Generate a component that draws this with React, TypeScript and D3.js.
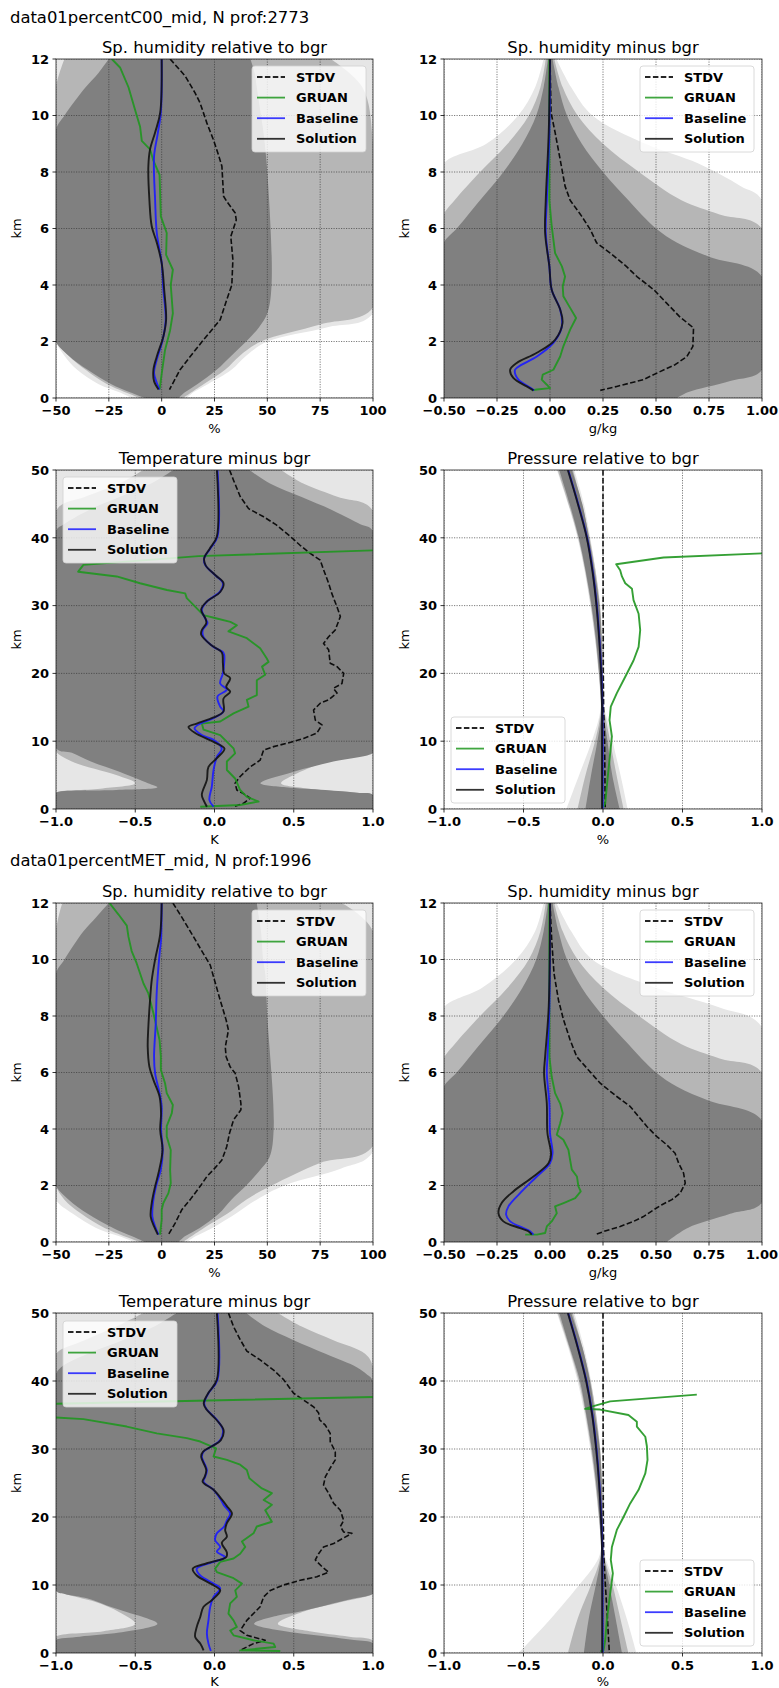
import React from "react";
import * as d3 from "d3";

// [km, value] pairs; envelopes are [km, low, high]
type Pt = [number, number];
type Env = [number, number, number];

const humRelTicks = [-50, -25, 0, 25, 50, 75, 100];
const humDiffTicks = [-0.5, -0.25, 0, 0.25, 0.5, 0.75, 1.0];
const unitTicks = [-1, -0.5, 0, 0.5, 1];
const km12Ticks = [0, 2, 4, 6, 8, 10, 12];
const km50Ticks = [0, 10, 20, 30, 40, 50];
const legendNames = ["STDV", "GRUAN", "Baseline", "Solution"];

// ---------- C00, specific humidity relative to bgr (%)
const c00RelStdv: Pt[] = [[12,4],[11.4,11.1],[10.8,15.8],[10.44,18.2],[9.73,21.4],[9.14,24.5],[8.6,26.9],[8.2,28.5],[7.14,29.3],[6.96,30.8],[6.55,34.8],[6.3,35.3],[5.72,32.7],[4.9,33.7],[4.0,33.2],[3.48,30.8],[2.77,27.7],[2.48,24.5],[2.06,19.8],[1.47,13.5],[1.0,8.7],[0.3,3.7]];
const c00RelGruan: Pt[] = [[12,-23.6],[11.7,-19.7],[11.0,-15.7],[10.0,-11.8],[9.6,-10.2],[9.1,-9.4],[8.8,-5.5],[8.4,-3.9],[7.9,-1.0],[6.43,-0.4],[5.84,2.4],[5.07,2.1],[4.54,5.3],[4.0,4.3],[3.0,5.3],[2.4,4.0],[1.7,1.6],[0.88,0.05],[0.3,-1.0]];
const c00RelBase: Pt[] = [[12,0],[10.1,-0.4],[9.3,-2.0],[8.55,-3.6],[7.0,-3.1],[5.84,-2.3],[4.78,0],[3.83,0.8],[2.77,1.9],[2.06,0.5],[1.36,-2.3],[0.88,-3.6],[0.53,-2.3],[0.3,-1.0]];
const c00RelSol: Pt[] = [[12,0],[10.1,-0.7],[9.4,-3.1],[8.8,-5.5],[8.2,-6.3],[7.0,-5.8],[6.08,-4.7],[5.5,-2.3],[4.78,0],[3.83,1.2],[2.77,2.1],[2.18,0.8],[1.47,-2.3],[1.0,-3.9],[0.59,-3.6],[0.3,-1.5]];
const c00RelOuter: Env[] = [[12,-50,100],[3.0,-50,100],[2.5,-50,78],[2.0,-50,50],[1.5,-46,40],[1.0,-40,33],[0.5,-30,22],[0.2,-20,15],[0,-14,12]];
const c00RelMid: Env[] = [[12,-46,80],[11,-50,95],[9,-50,100],[3.2,-50,100],[2.6,-50,75],[2.0,-50,47],[1.5,-44,37],[1.0,-36,30],[0.5,-26,20],[0,-10,10]];
const c00RelCore: Env[] = [[12,-25,42],[11.5,-30,44],[11,-36,45],[10,-46,47],[9.5,-50,48],[8,-50,50],[4,-50,52],[3,-50,50],[2.5,-50,46],[2,-50,40],[1.5,-44,33],[1,-35,26],[0.5,-24,17],[0.2,-15,11],[0,-8,8]];

// ---------- C00, specific humidity minus bgr (g/kg)
const c00DiffStdv: Pt[] = [[12,0.0],[10.1,0.005],[9.4,0.024],[8.44,0.048],[7.5,0.071],[7.0,0.095],[6.43,0.15],[5.96,0.19],[5.49,0.22],[5.13,0.284],[4.66,0.36],[4.3,0.41],[3.83,0.49],[3.36,0.55],[2.89,0.61],[2.48,0.677],[1.83,0.674],[1.47,0.646],[1.18,0.59],[0.88,0.504],[0.65,0.44],[0.53,0.378],[0.41,0.315],[0.27,0.237]];
const c00DiffGruan: Pt[] = [[12,-0.003],[7,-0.003],[6.08,0.008],[5.13,0.024],[4.66,0.056],[4.3,0.071],[3.95,0.06],[3.6,0.063],[3.19,0.095],[2.83,0.123],[2.42,0.095],[1.83,0.063],[1.47,0.048],[1.0,0.016],[0.83,-0.034],[0.65,-0.039],[0.47,-0.015],[0.35,0.0],[0.3,-0.062],[0.27,-0.086]];
const c00DiffBase: Pt[] = [[12,0],[9.4,-0.003],[7.0,-0.015],[5.84,-0.02],[4.66,-0.003],[3.83,0.008],[3.13,0.048],[2.54,0.056],[1.95,0.016],[1.47,-0.062],[1.18,-0.133],[1.0,-0.165],[0.65,-0.149],[0.41,-0.102],[0.27,-0.075]];
const c00DiffSol: Pt[] = [[12,0],[9.4,-0.006],[7.0,-0.02],[5.84,-0.023],[4.66,-0.003],[3.83,0.008],[3.13,0.048],[2.66,0.059],[2.06,0.024],[1.6,-0.062],[1.24,-0.157],[1.0,-0.188],[0.71,-0.173],[0.41,-0.11],[0.27,-0.078]];
const c00DiffOuter: Env[] = [[12,-0.03,0.03],[11,-0.07,0.1],[10,-0.15,0.2],[9,-0.3,0.45],[8.3,-0.5,0.7],[7.5,-0.5,0.9],[7,-0.5,1.0],[0,-0.5,1.0]];
const c00DiffMid: Env[] = [[12,-0.02,0.02],[11,-0.045,0.06],[10,-0.1,0.13],[9,-0.2,0.25],[8,-0.33,0.42],[7,-0.45,0.62],[6.5,-0.5,0.8],[6,-0.5,1.0],[0,-0.5,1.0]];
const c00DiffCore: Env[] = [[12,-0.01,0.012],[11,-0.03,0.04],[10,-0.065,0.08],[9,-0.13,0.15],[8,-0.22,0.25],[7,-0.33,0.37],[6,-0.44,0.5],[5.5,-0.5,0.6],[5,-0.5,0.75],[4.3,-0.5,1.0],[1.0,-0.5,1.0],[0.6,-0.5,0.85],[0.2,-0.5,0.65],[0,-0.5,0.6]];

// ---------- C00, temperature minus bgr (K)
const c00TStdv: Pt[] = [[50,0.095],[48.5,0.12],[46.1,0.162],[44.3,0.215],[43.1,0.31],[41.9,0.39],[40.2,0.478],[38.9,0.54],[37.7,0.604],[36.7,0.667],[35.3,0.688],[33.3,0.72],[31.8,0.74],[29.8,0.773],[28.4,0.794],[26.4,0.762],[25.4,0.72],[24.4,0.688],[23.5,0.72],[21.5,0.73],[21.0,0.773],[20.0,0.815],[18.5,0.804],[17.8,0.75],[17.1,0.773],[16.1,0.72],[15.6,0.667],[14.6,0.625],[13.1,0.636],[12.4,0.678],[11.2,0.646],[10.4,0.562],[9.7,0.457],[9.2,0.373],[8.7,0.31],[7.2,0.288],[6.2,0.225],[4.8,0.162],[3.8,0.13],[2.8,0.141],[2.1,0.194],[1.6,0.225],[0.84,0.183],[0.34,0.12]];
const c00TGruan: Pt[] = [[38.3,1.2],[37.3,-0.1],[36.0,-0.827],[35,-0.86],[34.3,-0.617],[33.3,-0.47],[32.3,-0.30],[31.8,-0.185],[31.1,-0.175],[30.1,-0.133],[28.6,-0.07],[28.1,0.015],[27.6,0.10],[27.1,0.141],[26.2,0.088],[25.2,0.204],[23.7,0.288],[22.2,0.33],[21.7,0.341],[21.0,0.30],[19.8,0.32],[19.0,0.267],[16.8,0.267],[16.1,0.204],[15.1,0.215],[14.1,0.12],[12.9,0.036],[12.6,-0.08],[11.7,-0.069],[10.9,0.036],[8.95,0.12],[8.2,0.13],[7.0,0.078],[5.75,0.078],[4.5,0.13],[2.8,0.162],[1.8,0.204],[1.1,0.278],[0.59,0.162],[0.34,-0.09]];
const c00TBase: Pt[] = [[50,0.019],[40.2,0.019],[38.4,-0.027],[37,-0.065],[36,-0.059],[34.5,0.004],[33.3,0.053],[32.1,0.036],[30.6,-0.048],[29.4,-0.08],[28.1,-0.059],[27.4,-0.044],[26.4,-0.074],[25.4,-0.07],[23.9,-0.006],[23,0.057],[21.5,0.061],[20,0.053],[18.5,0.036],[17.6,0.078],[16.6,0.019],[15.1,0.036],[14.4,0.057],[13.4,-0.006],[12.6,-0.09],[11.9,-0.126],[10.9,-0.08],[10.2,-0.006],[8.9,0.046],[7.7,0.015],[5.75,-0.006],[3.3,-0.017],[1.3,-0.032],[0.34,-0.006]];
const c00TSol: Pt[] = [[50,0.015],[40.2,0.015],[38.4,-0.03],[37,-0.065],[35.9,-0.055],[34.4,0.01],[33.3,0.057],[32,0.036],[30.6,-0.048],[29.4,-0.084],[28,-0.055],[27.4,-0.052],[26.4,-0.08],[25.7,-0.084],[24.1,-0.017],[23.1,0.046],[21.5,0.053],[20,0.061],[19.3,0.099],[18,0.074],[17.3,0.099],[16.3,0.057],[14.4,0.057],[13.5,-0.006],[12.6,-0.112],[12.1,-0.164],[11.2,-0.122],[9.9,-0.006],[8.9,0.063],[7.5,0.015],[6.2,-0.038],[4.3,-0.048],[2.1,-0.08],[1.3,-0.069],[0.34,-0.048]];
const c00TOuter: Env[] = [[50,-1,1],[0,-1,1]];
const c00TMid: Env[] = [[50,-0.45,0.42],[48,-0.6,0.56],[46,-0.82,0.78],[44,-1,1],[9.5,-1,1],[8.5,-1,0.9],[7,-0.9,0.7],[5,-0.62,0.5],[3.8,-0.5,0.42],[3,-0.72,0.6],[2.4,-1,0.9],[2,-1,1],[0,-1,1]];
const c00TCore: Env[] = [[50,-0.26,0.22],[48,-0.4,0.35],[46,-0.6,0.55],[44,-0.8,0.75],[42,-0.95,0.92],[41,-1,1],[9,-1,1],[8.3,-0.9,1],[7,-0.78,0.75],[5.5,-0.6,0.5],[3.8,-0.42,0.29],[3.2,-0.36,0.45],[2.8,-0.62,0.7],[2.4,-1,0.9],[2.1,-1,1],[0,-1,1]];

// ---------- C00, pressure relative to bgr (%)
const c00PStdv: Pt[] = [[50,0.0],[40,0.0],[30,0.001],[20,0.002],[15,0.004],[12,0.008],[10,0.01],[5,0.012],[0,0.014]];
const c00PGruan: Pt[] = [[37.75,1.05],[37.1,0.381],[36.1,0.083],[35.2,0.108],[34.3,0.119],[33.3,0.14],[32.5,0.182],[30.8,0.192],[28.8,0.224],[26.4,0.234],[23.9,0.224],[21.9,0.192],[19.5,0.14],[17.1,0.087],[15.1,0.049],[13.1,0.041],[10.7,0.056],[8.2,0.045],[4.3,0.028],[0.84,0.014],[0.34,0.003]];
const c00PBase: Pt[] = [[50,-0.219],[45,-0.156],[40,-0.1],[35,-0.064],[30,-0.039],[25,-0.022],[20,-0.01],[15,-0.004],[10,-0.002],[5,-0.002],[0,-0.002]];
const c00PSol: Pt[] = [[50,-0.221],[45,-0.158],[40,-0.102],[35,-0.066],[30,-0.041],[25,-0.024],[20,-0.012],[15,-0.006],[10,-0.006],[5,-0.006],[0,-0.006]];
const c00POuter: Env[] = [[50,-0.29,-0.18],[45,-0.22,-0.12],[40,-0.16,-0.08],[35,-0.115,-0.045],[30,-0.08,-0.017],[25,-0.05,-0.006],[20,-0.028,0.0],[15,-0.015,0.006],[13,-0.03,0.03],[10,-0.07,0.06],[5,-0.15,0.11],[0,-0.23,0.155]];
const c00PMid: Env[] = [[50,-0.285,-0.188],[40,-0.156,-0.084],[30,-0.076,-0.019],[20,-0.026,-0.001],[15,-0.013,0.005],[13,-0.022,0.02],[10,-0.05,0.045],[5,-0.11,0.085],[0,-0.16,0.13]];
const c00PCore: Env[] = [[50,-0.275,-0.195],[45,-0.21,-0.13],[40,-0.152,-0.088],[35,-0.108,-0.052],[30,-0.072,-0.022],[25,-0.044,-0.009],[20,-0.024,-0.002],[15,-0.011,0.004],[13,-0.015,0.01],[10,-0.035,0.028],[5,-0.075,0.058],[0,-0.11,0.105]];

// ---------- MET, specific humidity relative to bgr (%)
const metRelStdv: Pt[] = [[12,5.3],[11.5,9.5],[10.9,14.3],[10.2,19.8],[9.8,23.0],[9.4,24.5],[8.56,27.7],[7.86,30.5],[7.5,31.6],[6.9,30.1],[6.56,30.5],[6.2,32.4],[5.97,34.8],[5.5,36.4],[4.9,37.5],[4.68,37.5],[4.32,34.0],[3.85,32.1],[3.38,30.8],[2.9,28.5],[2.56,24.5],[2.32,21.4],[1.97,18.2],[1.5,13.5],[1.14,9.5],[0.67,6.4],[0.26,3.2]];
const metRelGruan: Pt[] = [[12,-24.7],[11.6,-20.5],[11.2,-16.5],[10.8,-15.7],[10.3,-14.2],[9.86,-11.8],[9.15,-8.6],[8.8,-6.3],[8.1,-3.9],[7.15,-1.0],[6.56,-0.4],[6.1,-0.4],[5.62,1.6],[5.27,2.4],[4.85,5.3],[4.56,4.8],[4.1,2.4],[3.73,2.4],[3.26,4.3],[2.56,4.0],[2.08,4.3],[1.73,3.2],[1.38,0.8],[1.14,0],[0.79,0],[0.26,-0.8]];
const metRelBase: Pt[] = [[12,0],[10.7,-0.3],[10.2,-1.0],[8.9,-2.3],[7.74,-2.8],[6.56,-3.6],[5.97,-3.1],[5.27,-1.0],[4.8,0],[3.97,-0.3],[3.26,0.5],[2.56,-0.4],[2.08,-2.3],[1.5,-3.9],[0.9,-4.4],[0.55,-3.1],[0.26,-1.5]];
const metRelSol: Pt[] = [[12,0],[10.9,-0.7],[10.0,-3.1],[9.27,-4.7],[8.56,-5.5],[7.62,-6.3],[6.9,-6.6],[6.2,-5.8],[5.74,-3.9],[5.15,-1.0],[4.56,-0.3],[3.97,-0.7],[3.26,0.4],[2.44,-1.5],[1.97,-3.1],[1.38,-4.7],[0.9,-5.2],[0.55,-3.6],[0.26,-1.8]];
const metRelOuter: Env[] = [[12,-50,100],[3.2,-50,100],[2.6,-50,85],[2.0,-50,58],[1.5,-50,45],[1.0,-42,35],[0.5,-31,24],[0.2,-20,16],[0,-13,12]];
const metRelMid: Env[] = [[12,-47,85],[11,-50,100],[3.4,-50,100],[2.8,-50,75],[2.0,-50,52],[1.5,-46,40],[1.0,-38,31],[0.5,-27,20],[0,-10,10]];
const metRelCore: Env[] = [[12,-25,45],[11.5,-31,46],[11,-37,47],[10,-46,48],[9.5,-50,49],[8,-50,50],[4,-50,53],[3,-50,51],[2.5,-50,46],[2,-50,40],[1.5,-44,33],[1,-35,27],[0.5,-23,18],[0.2,-14,11],[0,-8,8]];

// ---------- MET, specific humidity minus bgr (g/kg)
const metDiffStdv: Pt[] = [[12,0],[10.7,0.008],[9.5,0.019],[8.56,0.04],[7.86,0.064],[7.15,0.095],[6.56,0.126],[6.1,0.18],[5.62,0.237],[5.15,0.315],[4.8,0.378],[4.44,0.418],[4.09,0.457],[3.73,0.504],[3.44,0.551],[3.14,0.59],[2.79,0.607],[2.44,0.63],[2.08,0.638],[1.73,0.614],[1.5,0.575],[1.32,0.528],[1.14,0.489],[0.9,0.441],[0.73,0.394],[0.55,0.331],[0.41,0.268],[0.26,0.213]];
const metDiffGruan: Pt[] = [[12,-0.003],[6.56,-0.003],[5.85,0.008],[5.27,0.024],[4.9,0.048],[4.56,0.06],[4.2,0.048],[3.8,0.032],[3.62,0.063],[3.26,0.087],[2.9,0.095],[2.56,0.103],[2.32,0.127],[1.97,0.134],[1.79,0.145],[1.55,0.119],[1.38,0.064],[1.26,0.024],[1.02,0.032],[0.73,0.008],[0.55,-0.015],[0.32,-0.023],[0.26,-0.062],[0.26,-0.117]];
const metDiffBase: Pt[] = [[12,0],[8.33,-0.003],[6.56,-0.012],[5.97,-0.015],[4.9,-0.003],[3.85,0],[3.14,0.012],[2.79,0],[2.32,-0.062],[1.73,-0.141],[1.26,-0.196],[0.97,-0.207],[0.73,-0.188],[0.49,-0.125],[0.38,-0.094],[0.26,-0.078]];
const metDiffSol: Pt[] = [[12,0],[8.33,-0.006],[6.56,-0.023],[5.97,-0.028],[4.9,-0.015],[3.85,-0.012],[3.1,0.005],[2.79,-0.007],[2.32,-0.078],[1.79,-0.173],[1.38,-0.228],[1.02,-0.243],[0.73,-0.22],[0.49,-0.141],[0.38,-0.102],[0.26,-0.086]];
const metDiffOuter: Env[] = [[12,-0.03,0.03],[11,-0.07,0.1],[10,-0.16,0.2],[9,-0.32,0.5],[8.3,-0.5,0.8],[7.6,-0.5,1.0],[0,-0.5,1.0]];
const metDiffMid: Env[] = [[12,-0.02,0.02],[11,-0.045,0.06],[10,-0.1,0.13],[9,-0.2,0.25],[8,-0.33,0.42],[7,-0.45,0.62],[6.5,-0.5,0.8],[6,-0.5,1.0],[0,-0.5,1.0]];
const metDiffCore: Env[] = [[12,-0.01,0.012],[11,-0.03,0.04],[10,-0.065,0.08],[9,-0.13,0.15],[8,-0.22,0.25],[7,-0.33,0.37],[6,-0.44,0.5],[5.5,-0.5,0.6],[5,-0.5,0.75],[4.3,-0.5,1.0],[1.4,-0.5,1.0],[1.0,-0.5,0.85],[0.5,-0.5,0.65],[0,-0.5,0.55]];

// ---------- MET, temperature minus bgr (K)
const metTStdv: Pt[] = [[50,0.088],[48,0.12],[46.1,0.162],[44.4,0.204],[43.1,0.288],[41.6,0.373],[40.2,0.436],[38.2,0.499],[37.2,0.562],[36.2,0.625],[35.3,0.657],[34.3,0.663],[33.5,0.699],[32.3,0.73],[31.1,0.73],[29.6,0.762],[28.4,0.762],[27.2,0.73],[25.9,0.699],[24.7,0.688],[23.5,0.72],[22,0.752],[21,0.794],[19.5,0.815],[18.6,0.794],[17.8,0.815],[17.6,0.867],[16.1,0.752],[15.6,0.688],[14.6,0.657],[13.7,0.636],[12.7,0.678],[11.9,0.72],[11.2,0.646],[10.7,0.541],[10.0,0.436],[9.2,0.352],[8.25,0.31],[6.8,0.288],[5.8,0.246],[4.8,0.204],[3.3,0.162],[2.6,0.204],[1.87,0.32],[1.38,0.246],[0.64,0.183],[0.3,0.158]];
const metTGruan: Pt[] = [[37.8,1.3],[36.5,-1.3],[34.9,-1.2],[34.4,-0.827],[33.3,-0.554],[32.3,-0.364],[31.6,-0.175],[31.1,-0.09],[30.1,0.01],[28.9,-0.006],[28.4,0.078],[27.7,0.162],[26.9,0.204],[25.7,0.22],[25.2,0.246],[24.2,0.299],[23.5,0.362],[22.5,0.31],[21.8,0.362],[21,0.32],[19.3,0.362],[18.6,0.267],[17.6,0.246],[16.4,0.173],[15.6,0.194],[14.6,0.162],[13.9,0.12],[13.4,0.036],[12.4,0.004],[11.9,0.015],[11,0.12],[10.2,0.173],[9.2,0.131],[8.25,0.141],[7.3,0.099],[5.8,0.088],[4.8,0.12],[3.83,0.141],[3.3,0.099],[2.6,0.12],[1.87,0.246],[1.38,0.373],[0.88,0.383],[0.39,0.162],[0.3,0.415]];
const metTBase: Pt[] = [[50,0.019],[40.2,0.019],[38.2,-0.038],[36.7,-0.065],[35.8,-0.048],[34.3,0.015],[32.8,0.053],[31.3,0.036],[30.4,-0.017],[29.6,-0.069],[28.9,-0.08],[26.9,-0.048],[25.9,-0.059],[25.2,-0.069],[24,-0.006],[22.7,0.036],[21.8,0.057],[20.5,0.099],[19.5,0.078],[18.6,0.061],[17.6,0.015],[16.6,0.004],[15.6,0.036],[14.9,0.015],[14.1,0.067],[13.4,-0.006],[12.4,-0.112],[11.4,-0.09],[10.2,-0.006],[9.5,0.036],[8.25,-0.006],[6.8,-0.027],[4.8,-0.038],[2.85,-0.048],[1.38,-0.038],[0.3,-0.023]];
const metTSol: Pt[] = [[50,0.015],[40.2,0.015],[38.2,-0.04],[36.7,-0.068],[35.8,-0.05],[34.3,0.012],[32.8,0.057],[31.3,0.04],[30.4,-0.017],[29.6,-0.072],[28.9,-0.084],[26.9,-0.052],[25.9,-0.062],[25.2,-0.075],[24,-0.006],[22.6,0.046],[21.6,0.078],[20.5,0.11],[19.1,0.078],[18.1,0.067],[17.1,0.078],[16.2,0.046],[14.8,0.078],[14.1,0.074],[13.2,-0.048],[12.4,-0.137],[11.4,-0.112],[9.97,-0.006],[9.2,0.036],[7.76,-0.017],[6.8,-0.069],[5.3,-0.09],[3.83,-0.112],[2.36,-0.122],[1.38,-0.09],[0.39,-0.069]];
const metTOuter: Env[] = [[50,-1,1],[0,-1,1]];
const metTMid: Env[] = [[50,-0.45,0.4],[48,-0.62,0.55],[46,-0.82,0.75],[44,-1,0.95],[42,-1,1],[9.6,-1,1],[8.8,-0.95,1],[7.5,-0.75,0.8],[6,-0.6,0.55],[4.3,-0.5,0.4],[3.2,-0.7,0.6],[2.4,-1,0.85],[1.8,-1,1],[0,-1,1]];
const metTCore: Env[] = [[50,-0.24,0.2],[48,-0.38,0.32],[46,-0.58,0.5],[44,-0.8,0.7],[42,-0.97,0.9],[41,-1,0.96],[40,-1,1],[9.2,-1,1],[8.7,-0.95,1],[8,-0.8,0.88],[7,-0.68,0.7],[6,-0.55,0.52],[5.5,-0.48,0.4],[4.3,-0.36,0.25],[3,-0.6,0.5],[2.4,-0.85,0.72],[1.9,-1,0.88],[1.4,-1,1],[0,-1,1]];

// ---------- MET, pressure relative to bgr (%)
const metPStdv: Pt[] = [[50,0.0],[30,0.001],[20,0.002],[15,0.004],[12,0.01],[10,0.015],[5,0.028],[0,0.04]];
const metPGruan: Pt[] = [[38,0.59],[37,0.045],[36.3,-0.06],[35.9,-0.112],[35.8,-0.018],[35,0.16],[34,0.213],[33.3,0.213],[31.8,0.266],[30.4,0.276],[28.4,0.28],[26.4,0.266],[24,0.224],[22,0.171],[20,0.129],[18.1,0.087],[15.6,0.056],[13.7,0.049],[11.7,0.062],[8.7,0.045],[4.8,0.024],[1.87,0.014],[0.39,0.003],[0.25,-0.018]];
const metPBase: Pt[] = [[50,-0.219],[45,-0.158],[40,-0.104],[35,-0.066],[30,-0.041],[25,-0.023],[20,-0.011],[15,-0.004],[10,-0.003],[5,-0.002],[0,-0.002]];
const metPSol: Pt[] = [[50,-0.221],[45,-0.16],[40,-0.106],[35,-0.068],[30,-0.043],[25,-0.025],[20,-0.013],[15,-0.006],[10,-0.005],[5,-0.005],[0,-0.005]];
const metPOuter: Env[] = [[50,-0.29,-0.18],[45,-0.22,-0.12],[40,-0.16,-0.075],[35,-0.115,-0.045],[30,-0.08,-0.017],[25,-0.05,-0.006],[20,-0.028,0.0],[15,-0.015,0.006],[13,-0.05,0.03],[10,-0.15,0.08],[5,-0.33,0.15],[0,-0.53,0.21]];
const metPMid: Env[] = [[50,-0.285,-0.19],[40,-0.152,-0.078],[30,-0.075,-0.018],[20,-0.026,-0.001],[15,-0.013,0.005],[13,-0.028,0.02],[10,-0.075,0.06],[5,-0.16,0.11],[0,-0.22,0.16]];
const metPCore: Env[] = [[50,-0.275,-0.2],[45,-0.21,-0.13],[40,-0.145,-0.082],[35,-0.105,-0.05],[30,-0.07,-0.02],[25,-0.043,-0.008],[20,-0.023,-0.002],[15,-0.011,0.004],[13,-0.02,0.015],[10,-0.045,0.04],[5,-0.09,0.08],[0,-0.12,0.12]];

const figTitles = [
  { text: "data01percentC00_mid, N prof:2773", y: 23 },
  { text: "data01percentMET_mid, N prof:1996", y: 866 },
];

const COLS = [[56, 373], [444, 762]];
const ROWS = [[59, 398], [470, 809], [903, 1242], [1313, 1653]];

const fmtInt = d3.format("d");
const fmt2 = d3.format(".2f");
const fmt1 = d3.format(".1f");

const humRel = { title: "Sp. humidity relative to bgr", xlabel: "%", xDomain: [-50, 100], xTicks: humRelTicks, fmt: fmtInt, yDomain: [0, 12], yTicks: km12Ticks };
const humDiff = { title: "Sp. humidity minus bgr", xlabel: "g/kg", xDomain: [-0.5, 1.0], xTicks: humDiffTicks, fmt: fmt2, yDomain: [0, 12], yTicks: km12Ticks };
const temp = { title: "Temperature minus bgr", xlabel: "K", xDomain: [-1, 1], xTicks: unitTicks, fmt: fmt1, yDomain: [0, 50], yTicks: km50Ticks };
const pres = { title: "Pressure relative to bgr", xlabel: "%", xDomain: [-1, 1], xTicks: unitTicks, fmt: fmt1, yDomain: [0, 50], yTicks: km50Ticks };

const panels = [
  { ...humRel, col: 0, row: 0, legend: [252, 66], series: [c00RelStdv, c00RelGruan, c00RelBase, c00RelSol], env: [c00RelOuter, c00RelMid, c00RelCore] },
  { ...humDiff, col: 1, row: 0, legend: [640, 66], series: [c00DiffStdv, c00DiffGruan, c00DiffBase, c00DiffSol], env: [c00DiffOuter, c00DiffMid, c00DiffCore] },
  { ...temp, col: 0, row: 1, legend: [63, 477], series: [c00TStdv, c00TGruan, c00TBase, c00TSol], env: [c00TOuter, c00TMid, c00TCore] },
  { ...pres, col: 1, row: 1, legend: [451, 717], series: [c00PStdv, c00PGruan, c00PBase, c00PSol], env: [c00POuter, c00PMid, c00PCore] },
  { ...humRel, col: 0, row: 2, legend: [252, 910], series: [metRelStdv, metRelGruan, metRelBase, metRelSol], env: [metRelOuter, metRelMid, metRelCore] },
  { ...humDiff, col: 1, row: 2, legend: [640, 910], series: [metDiffStdv, metDiffGruan, metDiffBase, metDiffSol], env: [metDiffOuter, metDiffMid, metDiffCore] },
  { ...temp, col: 0, row: 3, legend: [63, 1321], series: [metTStdv, metTGruan, metTBase, metTSol], env: [metTOuter, metTMid, metTCore] },
  { ...pres, col: 1, row: 3, legend: [640, 1560], series: [metPStdv, metPGruan, metPBase, metPSol], env: [metPOuter, metPMid, metPCore] },
];

const envColors = ["#e6e6e6", "#b6b6b6", "#808080"];
const lineStyles = [
  { color: "#000000", dash: "5.5,2.4", curve: d3.curveLinear },
  { color: "#1f961f", dash: undefined, curve: d3.curveLinear },
  { color: "#1a1aff", dash: undefined, curve: d3.curveCatmullRom },
  { color: "#111111", dash: undefined, curve: d3.curveCatmullRom },
];
const FONT = "DejaVu Sans";

function Legend({ x, y }: { x: number; y: number }) {
  return (
    <g>
      <rect x={x} y={y} width={114} height={86} rx={3} fill="white" fillOpacity={0.8} stroke="#d0d0d0" strokeWidth={0.8} />
      {legendNames.map((name, i) => {
        const ry = y + 11 + i * 20.6;
        const s = lineStyles[i];
        return (
          <g key={name}>
            <line x1={x + 5} x2={x + 33} y1={ry} y2={ry} stroke={s.color} strokeWidth={1.8} strokeDasharray={s.dash} strokeOpacity={0.85} />
            <text x={x + 44} y={ry + 4.6} fontSize={13} fontWeight="bold" fontFamily={FONT}>{name}</text>
          </g>
        );
      })}
    </g>
  );
}

function Panel({ p, idx }: { p: any; idx: number }) {
  const [left, right] = COLS[p.col];
  const [top, bottom] = ROWS[p.row];
  const x = d3.scaleLinear().domain(p.xDomain).range([left, right]);
  const y = d3.scaleLinear().domain(p.yDomain).range([bottom, top]);
  const area = d3.area<Env>().y((d) => y(d[0])).x0((d) => x(d[1])).x1((d) => x(d[2])).curve(d3.curveCatmullRom);
  const cx = (left + right) / 2;
  const cy = (top + bottom) / 2;
  const clip = `clip-${idx}`;
  // the last row's x label sits on the page's bottom edge
  const labelY = p.row === 3 ? bottom + 33 : bottom + 35;
  return (
    <g>
      <defs>
        <clipPath id={clip}>
          <rect x={left} y={top} width={right - left} height={bottom - top} />
        </clipPath>
      </defs>
      <g clipPath={`url(#${clip})`}>
        {p.env.map((e: Env[], i: number) => (
          <path key={i} d={area(e) || ""} fill={envColors[i]} />
        ))}
        {p.xTicks.map((t: number) => (
          <line key={"gx" + t} x1={x(t)} x2={x(t)} y1={top} y2={bottom} stroke="#333" strokeWidth={0.8} strokeDasharray="1.2,1.3" strokeOpacity={0.8} />
        ))}
        {p.yTicks.map((t: number) => (
          <line key={"gy" + t} x1={left} x2={right} y1={y(t)} y2={y(t)} stroke="#333" strokeWidth={0.8} strokeDasharray="1.2,1.3" strokeOpacity={0.8} />
        ))}
        {p.series.map((s: Pt[], i: number) => {
          const st = lineStyles[i];
          const line = d3.line<Pt>().x((d) => x(d[1])).y((d) => y(d[0])).curve(st.curve);
          return (
            <path key={i} d={line(s) || ""} fill="none" stroke={st.color} strokeWidth={i === 0 ? 1.6 : 1.9} strokeDasharray={st.dash} strokeOpacity={0.9} strokeLinejoin="round" />
          );
        })}
      </g>
      <rect x={left} y={top} width={right - left} height={bottom - top} fill="none" stroke="#222" strokeWidth={0.8} />
      {p.xTicks.map((t: number) => (
        <g key={"tx" + t}>
          <line x1={x(t)} x2={x(t)} y1={bottom} y2={bottom + 3.5} stroke="#000" strokeWidth={0.8} />
          <text x={x(t)} y={bottom + 17} textAnchor="middle" fontSize={13} fontWeight="bold" fontFamily={FONT}>{p.fmt(t)}</text>
        </g>
      ))}
      {p.yTicks.map((t: number) => (
        <g key={"ty" + t}>
          <line x1={left - 3.5} x2={left} y1={y(t)} y2={y(t)} stroke="#000" strokeWidth={0.8} />
          <text x={left - 7} y={y(t) + 4.7} textAnchor="end" fontSize={13} fontWeight="bold" fontFamily={FONT}>{fmtInt(t)}</text>
        </g>
      ))}
      <text x={cx} y={top - 6} textAnchor="middle" fontSize={16.4} fontFamily={FONT}>{p.title}</text>
      <text x={cx} y={labelY} textAnchor="middle" fontSize={13} fontFamily={FONT}>{p.xlabel}</text>
      <text transform={`translate(${left - 35},${cy}) rotate(-90)`} textAnchor="middle" fontSize={13} fontFamily={FONT}>km</text>
      <Legend x={p.legend[0]} y={p.legend[1]} />
    </g>
  );
}

export default function App() {
  return (
    <svg width={779} height={1688} style={{ position: "absolute", left: 0, top: 0, background: "white" }} fontFamily={FONT}>
      <rect x={0} y={0} width={779} height={1688} fill="white" />
      {figTitles.map((t) => (
        <text key={t.text} x={10} y={t.y} fontSize={16.4} fontFamily={FONT}>{t.text}</text>
      ))}
      {panels.map((p, i) => (
        <Panel key={i} p={p} idx={i} />
      ))}
    </svg>
  );
}
